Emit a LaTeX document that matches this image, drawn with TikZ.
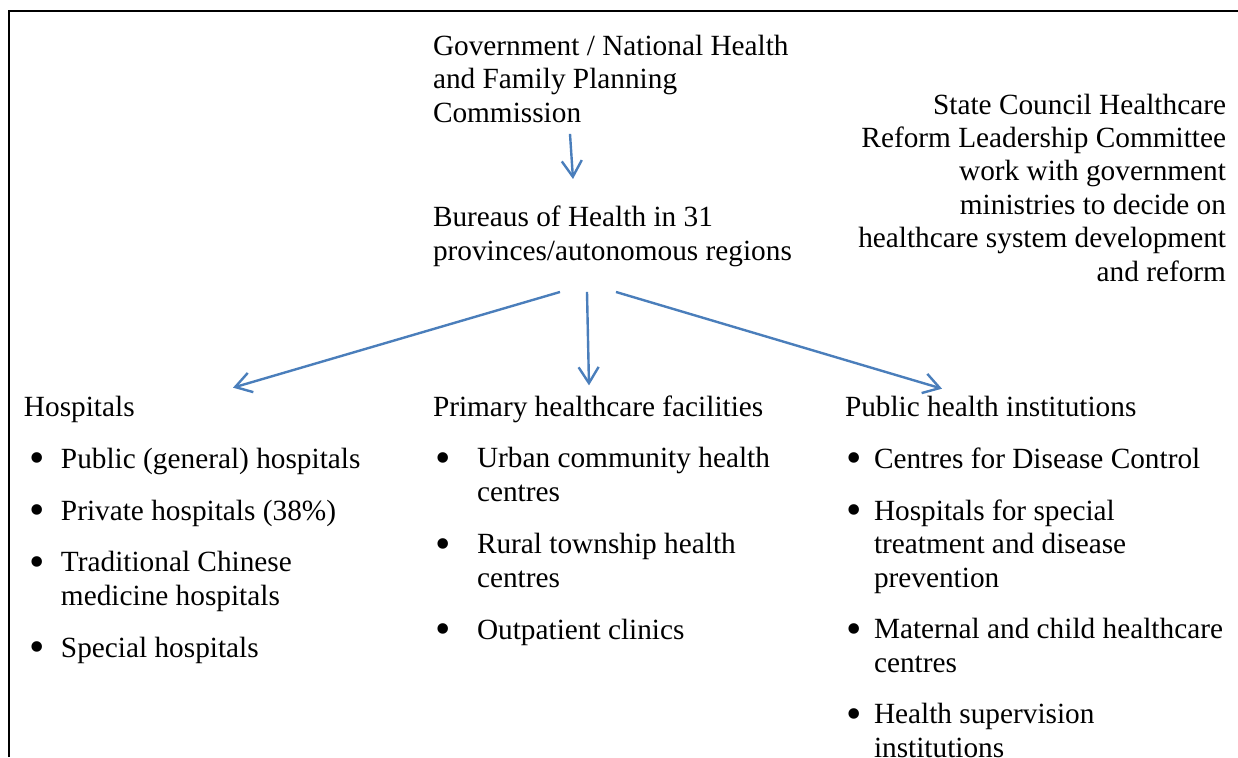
\documentclass[tikz,border=0pt]{standalone}
\usepackage{fontspec}
\setmainfont{Liberation Serif}
\usetikzlibrary{arrows.meta}
\newcommand\itm[1][8pt]{\llap{\raisebox{-2.2pt}{\scalebox{1.5}{\textbullet}}\hspace{#1}}}
\begin{document}
\begin{tikzpicture}[x=0.5pt,y=-0.5pt,
	every node/.style={inner sep=0,outer sep=0,align=left,anchor=base west,
	font=\fontsize{14.65}{16.7}\selectfont},
	link/.style={draw={rgb,255:red,74;green,126;blue,187},line width=1.2pt,
	-{Straight Barb[length=8pt,width=10pt]}}]
\useasboundingbox (0,0) rectangle (1238,757);
\draw[line width=1.2pt] (9,757) -- (9,11) -- (1240,11);
% top of the chart (base = last line)
\node (gov) at (433,122) {Government / National Health\\and Family Planning\\Commission};
\node (bur) at (433,260) {Bureaus of Health in 31\\provinces/autonomous regions};
\node[anchor=base east,align=right] (council) at (1226,281) {State Council Healthcare\\Reform Leadership Committee\\work with government\\ministries to decide on\\healthcare system development\\and reform};
% three columns
\node (hosp) at (24,416) {Hospitals};
\node (prim) at (433,416) {Primary healthcare facilities};
\node (pub) at (845,416) {Public health institutions};
\node (h1) at (61,468) {\itm Public (general) hospitals};
\node (h2) at (61,520) {\itm Private hospitals (38\%)};
\node (h3) at (61,605) {\itm Traditional Chinese\\medicine hospitals};
\node (h4) at (61,657) {\itm Special hospitals};
\node (p1) at (477,501) {\itm[13pt]Urban community health\\centres};
\node (p2) at (477,587) {\itm[13pt]Rural township health\\centres};
\node (p3) at (477,639) {\itm[13pt]Outpatient clinics};
\node (u1) at (874,468) {\itm[6pt]Centres for Disease Control};
\node (u2) at (874,587) {\itm[6pt]Hospitals for special\\treatment and disease\\prevention};
\node (u3) at (874,672) {\itm[6pt]Maternal and child healthcare\\centres};
\node (u4) at (874,757) {\itm[6pt]Health supervision\\institutions};
% arrows
\draw[link] ([shift={(137,99)}]gov.north west) -- ([shift={(140,-27)}]bur.north west);
\draw[link] ([shift={(127,86)}]bur.north west) -- ([shift={(209,-8)}]hosp.north west);
\draw[link] ([shift={(154,86)}]bur.north west) -- ([shift={(156,-10)}]prim.north west);
\draw[link] ([shift={(183,86)}]bur.north west) -- ([shift={(97,-7)}]pub.north west);
\end{tikzpicture}
\end{document}
